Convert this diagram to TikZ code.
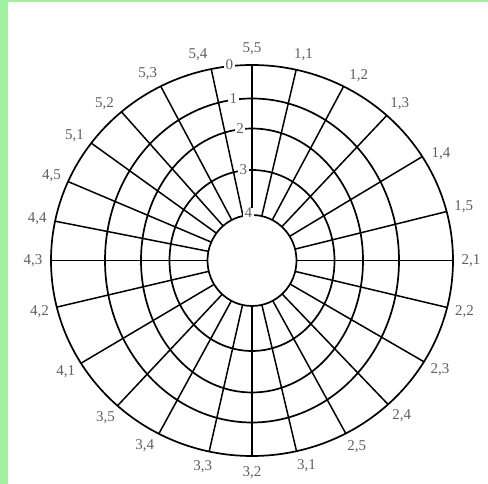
\documentclass[tikz,border=0pt]{standalone}
\usepackage{fontspec}
\setmainfont{Liberation Serif}
\usetikzlibrary{positioning}
\definecolor{fundo}{HTML}{A0F0A0}
\definecolor{papel}{HTML}{FFFFFF}
\definecolor{rotulo}{HTML}{606060}
\definecolor{traco}{HTML}{000000}

\begin{document}
\begin{tikzpicture}[x=1pt,y=1pt, font=\fontsize{15}{15}\selectfont,
    anel/.style={draw=traco, line width=1.7pt},
    raio/.style={draw=traco, line width=1.5pt},
    rot/.style={text=rotulo, inner sep=0pt},
    eixo/.style={text=rotulo, fill=papel, inner xsep=1.5pt, inner ysep=0.5pt}]
  \fill[fundo] (0,0) rectangle (488,484);
  \fill[papel] (8,0) rectangle (488,482);
  \useasboundingbox (0,0) rectangle (488,484);
  \begin{scope}[shift={(252,223.5)}]
    \foreach \rx/\ry in {201/195.5,147/162,111/132,82.5/90.5,44.5/45.5}{\draw[anel] (0,0) ellipse ({\rx} and {\ry});}
    \foreach \a/\b/\i/\j in {90/90/5/5,77.3/76.4/1/1,62.9/60.8/1/2,47.9/47.6/1/3,32.1/30.4/1/4,14.5/14.8/1/5,
        0/0/2/1,-13.9/-14/2/2,-31.2/-30.9/2/3,-47.4/-46.9/2/4,-62.2/-61.4/2/5,
        -77.2/-75.6/3/1,-90/-90/3/2,-102.3/-103/3/3,-117.6/-119.3/3/4,-132/-132/3/5,
        -148.3/-148.3/4/1,-166.2/-165.9/4/2,180/180/4/3,168.4/168.6/4/4,156.2/156.3/4/5,
        143.1/144.1/5/1,130.5/132.3/5/2,117/118.4/5/3,101.7/104.3/5/4}{
      \draw[raio] (\a:44.5 and 45.5) -- (\a:201 and 195.5);
      \node[rot] (r\i\j) at (\b:219 and 212) {\i,\j};}
    \foreach \k/\x/\y in {0/-22.7/195.5,1/-18.7/161.5,2/-12/131.5,3/-8.7/90.5,4/-3.7/47.5}{\node[eixo] (e\k) at (\x,\y) {\k};}
  \end{scope}
\end{tikzpicture}
\end{document}
